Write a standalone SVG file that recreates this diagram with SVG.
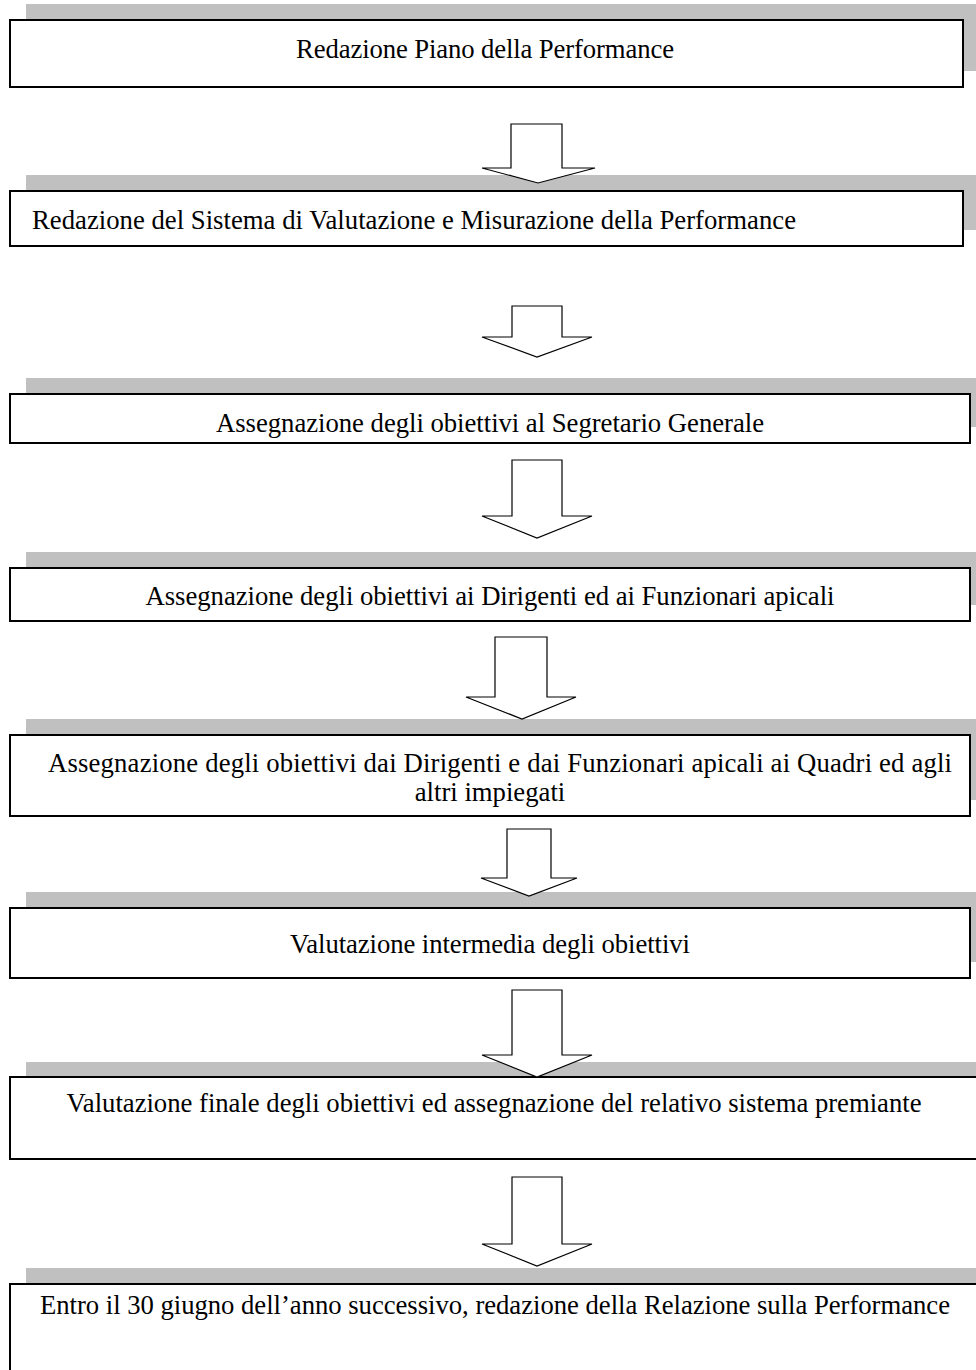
<svg xmlns="http://www.w3.org/2000/svg" width="976" height="1370" viewBox="0 0 976 1370">
<style>
.sh{fill:#c0c0c0;stroke:none}
.bx{fill:#fff;stroke:#000;stroke-width:2}
.ar{fill:#fff;stroke:#000;stroke-width:1.2;stroke-linejoin:miter}
text{font-family:"Liberation Serif","Times New Roman",serif;font-size:26.7px;fill:#000}
.c{text-anchor:middle}
</style>
<rect width="976" height="1370" fill="#fff"/>
<g id="node1">
<rect class="sh" x="26" y="4" width="953" height="67"/>
<rect class="bx" x="10" y="20" width="953" height="67"/>
<text class="c" x="485" y="58" textLength="378">Redazione Piano della Performance</text>
</g>
<g id="node2">
<rect class="sh" x="26" y="175" width="953" height="55"/>
<rect class="bx" x="10" y="191" width="953" height="55"/>
<text x="32" y="229" textLength="764">Redazione del Sistema di Valutazione e Misurazione della Performance</text>
</g>
<g id="node3">
<rect class="sh" x="26" y="378" width="960" height="49"/>
<rect class="bx" x="10" y="394" width="960" height="49"/>
<text class="c" x="490" y="432" textLength="548">Assegnazione degli obiettivi al Segretario Generale</text>
</g>
<g id="node4">
<rect class="sh" x="26" y="552" width="960" height="53"/>
<rect class="bx" x="10" y="568" width="960" height="53"/>
<text class="c" x="490" y="605" textLength="689">Assegnazione degli obiettivi ai Dirigenti ed ai Funzionari apicali</text>
</g>
<g id="node5">
<rect class="sh" x="26" y="719" width="960" height="81"/>
<rect class="bx" x="10" y="735" width="960" height="81"/>
<text x="48" y="772" textLength="904">Assegnazione degli obiettivi dai Dirigenti e dai Funzionari apicali ai Quadri ed agli</text>
<text class="c" x="490" y="801">altri impiegati</text>
</g>
<g id="node6">
<rect class="sh" x="26" y="892" width="960" height="70"/>
<rect class="bx" x="10" y="908" width="960" height="70"/>
<text class="c" x="490" y="953" textLength="400">Valutazione intermedia degli obiettivi</text>
</g>
<g id="node7">
<rect class="sh" x="26" y="1062" width="970" height="82"/>
<rect class="bx" x="10" y="1077" width="980" height="82"/>
<text class="c" x="494" y="1112" textLength="855">Valutazione finale degli obiettivi ed assegnazione del relativo sistema premiante</text>
</g>
<g id="node8">
<rect class="sh" x="26" y="1268" width="970" height="120"/>
<rect class="bx" x="10" y="1284" width="980" height="120"/>
<text class="c" x="495" y="1314" textLength="910">Entro il 30 giugno dell’anno successivo, redazione della Relazione sulla Performance</text>
</g>
<g id="connectors">
<path class="ar" d="M511,124 H562 V168 H595 L538,183 L482,168 H511 Z"/>
<path class="ar" d="M512,306 H562 V337 H592 L537,357 L482,337 H512 Z"/>
<path class="ar" d="M512,460 H562 V516 H592 L537,538 L482,516 H512 Z"/>
<path class="ar" d="M495,637 H547 V697 H576 L522,719 L466,697 H495 Z"/>
<path class="ar" d="M507,829 H551 V878 H577 L529,896 L481,878 H507 Z"/>
<path class="ar" d="M512,990 H562 V1055 H592 L537,1077 L482,1055 H512 Z"/>
<path class="ar" d="M512,1177 H562 V1244 H592 L537,1266 L482,1244 H512 Z"/>
</g>
</svg>
